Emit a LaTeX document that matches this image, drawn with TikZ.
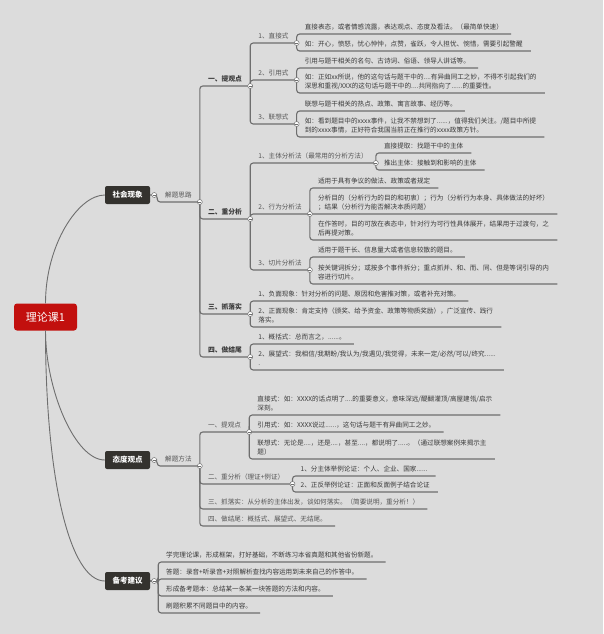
\documentclass[tikz,border=0pt]{standalone}
\usepackage{fontspec}
\setmainfont{Noto Sans CJK SC}
\definecolor{bg}{HTML}{DCDCDC}
\definecolor{ln}{HTML}{6E6E6E}
\definecolor{tx}{HTML}{3A3A3A}
\definecolor{txm}{HTML}{555555}
\definecolor{boxc}{HTML}{34322E}
\definecolor{redc}{HTML}{C2100E}
\newcommand\lffont{\fontsize{6.6}{9.5}\selectfont}
\newcommand\hdfont{\fontsize{6.8}{9.5}\selectfont\bfseries}
\begin{document}
\begin{tikzpicture}[x=1pt,y=-1pt,
  conn/.style={draw=ln, line width=1.1pt, rounded corners=3pt},
  curve/.style={draw=ln, line width=0.9pt},
  leaf/.style={anchor=south west, inner xsep=8pt, inner ysep=3pt, text depth=1pt, font=\lffont, text=tx, align=left},
  mid/.style={leaf, text=txm},
  head/.style={leaf, font=\hdfont, text=tx},
  topbox/.style={fill=boxc, text=white, rounded corners=2pt, minimum width=45pt, minimum height=18pt, inner sep=0pt, font=\fontsize{7.5}{9}\selectfont\bfseries},
  mk/.style={circle, draw=ln, fill=white, line width=0.5pt, inner sep=0pt, minimum size=5pt,
    path picture={\draw[ln, line width=0.6pt] ([xshift=-1.4pt]path picture bounding box.center) -- ([xshift=1.4pt]path picture bounding box.center);}}
]
\fill[bg] (0,0) rectangle (603,634);
\useasboundingbox (0,0) rectangle (603,634);

% root
\node[fill=redc, text=white, rounded corners=3pt, minimum width=63pt, minimum height=27pt, inner sep=0pt, font=\fontsize{11}{13}\selectfont] (root) at (45.5,317) {理论课1};

% ---------- 社会现象 ----------
\node[topbox] (s1) at (127.5,195) {社会现象};
\coordinate (ms1) at ([xshift=4pt]s1.east);
\node[mid] (jt) at (157,202) {解题思路};
\node[head] (a1) at (jt.south east |- 0,86) {一、提观点};
\node[mid] (b1) at (a1.south east |- 0,43) {1、直接式};
\node[leaf] (c1) at (b1.south east |- 0,34) {直接表态，或者情感流露，表达观点、态度及看法。（最简单快速）};
\node[leaf] (c2) at (b1.south east |- 0,51) {如：开心，愤怒，忧心忡忡，点赞，雀跃，令人担忧、惋惜，需要引起警醒};
\node[mid] (b2) at (a1.south east |- 0,80) {2、引用式};
\node[leaf] (c3) at (b2.south east |- 0,68) {引用与题干相关的名句、古诗词、俗语、领导人讲话等。};
\node[leaf] (c4) at (b2.south east |- 0,93) {如：正如xx所说，他的这句话与题干中的....有异曲同工之妙，不得不引起我们的\\深思和重视/XXX的这句话与题干中的....共同指向了......的重要性。};
\node[mid] (b3) at (a1.south east |- 0,124) {3、联想式};
\node[leaf] (c5) at (b3.south east |- 0,111) {联想与题干相关的热点、政策、寓言故事、经历等。};
\node[leaf] (c6) at (b3.south east |- 0,137) {如：看到题目中的xxxx事件，让我不禁想到了......，值得我们关注。/题目中所提\\到的xxxx事情，正好符合我国当前正在推行的xxxx政策方针。};

\node[head] (a2) at (jt.south east |- 0,219) {二、重分析};
\node[mid] (b4) at (a2.south east |- 0,163) {1、主体分析法（最常用的分析方法）};
\node[leaf] (c7) at (b4.south east |- 0,153) {直接提取：找题干中的主体};
\node[leaf] (c8) at (b4.south east |- 0,170) {推出主体：接触到和影响的主体};
\node[mid] (b5) at (a2.south east |- 0,214) {2、行为分析法};
\node[leaf] (c9) at (b5.south east |- 0,188) {适用于具有争议的做法、政策或者规定};
\node[leaf] (c10) at (b5.south east |- 0,214) {分析目的（分析行为的目的和初衷）；行为（分析行为本身、具体做法的好坏）\\；结果（分析行为能否解决本质问题）};
\node[leaf] (c11) at (b5.south east |- 0,240) {在作答时，目的可放在表态中，针对行为可行性具体展开，结果用于过渡句，之\\后再提对策。};
\node[mid] (b6) at (a2.south east |- 0,270) {3、切片分析法};
\node[leaf] (c12) at (b6.south east |- 0,257) {适用于题干长、信息量大或者信息较散的题目。};
\node[leaf] (c13) at (b6.south east |- 0,284) {按关键词拆分；或按多个事件拆分；重点抓并、和、而、同、但是等词引导的内\\容进行切片。};

\node[head] (a3) at (jt.south east |- 0,314) {三、抓落实};
\node[leaf] (b7) at (a3.south east |- 0,301) {1、负面现象：针对分析的问题、原因和危害推对策，或者补充对策。};
\node[leaf] (b8) at (a3.south east |- 0,327) {2、正面现象：肯定支持（颁奖、给予资金、政策等物质奖励），广泛宣传、践行\\落实。};

\node[head] (a4) at (jt.south east |- 0,357) {四、做结尾};
\node[leaf] (b9) at (a4.south east |- 0,344) {1、概括式：总而言之，......。};
\node[leaf] (b10) at (a4.south east |- 0,370) {2、展望式：我相信/我期盼/我认为/我遇见/我觉得，未来一定/必然/可以/终究......\\.};

% ---------- 态度观点 ----------
\node[topbox] (s2) at (127.5,460) {态度观点};
\coordinate (ms2) at ([xshift=4pt]s2.east);
\node[mid] (jf) at (157,466) {解题方法};
\node[mid] (d1) at (jf.south east |- 0,432) {一、提观点};
\node[leaf] (e1) at (d1.south east |- 0,415) {直接式：如：XXXX的话点明了....的重要意义，意味深远/醍醐灌顶/高屋建瓴/启示\\深刻。};
\node[leaf] (e2) at (d1.south east |- 0,432) {引用式：如：XXXX说过......，这句话与题干有异曲同工之妙。};
\node[leaf] (e3) at (d1.south east |- 0,459) {联想式：无论是....，还是....，甚至....，都说明了.....。（通过联想案例来揭示主\\题）};
\node[mid] (d2) at (jf.south east |- 0,484) {二、重分析（理证+例证）};
\node[leaf] (e4) at (d2.south east |- 0,476) {1、分主体举例论证：个人、企业、国家......};
\node[leaf] (e5) at (d2.south east |- 0,492) {2、正反举例论证：正面和反面例子结合论证};
\node[mid] (d3) at (jf.south east |- 0,509) {三、抓落实：从分析的主体出发，谈如何落实。（简要说明，重分析！）};
\node[mid] (d4) at (jf.south east |- 0,526) {四、做结尾：概括式、展望式、无结尾。};

% ---------- 备考建议 ----------
\node[topbox] (s3) at (127.5,581) {备考建议};
\coordinate (ms3) at ([xshift=4pt]s3.east);
\node[leaf] (f1) at (158,562) {学完理论课，形成框架，打好基础，不断练习本省真题和其他省份新题。};
\node[leaf] (f2) at (158,579) {答题：录音+听录音+对照解析查找内容运用到未来自己的作答中。};
\node[leaf] (f3) at (158,596) {形成备考题本：总结某一条某一块答题的方法和内容。};
\node[leaf] (f4) at (158,613) {刷题积累不同题目中的内容。};

% ---------- connectors ----------
\draw[curve] (root.north) .. controls (45.5,245) and (78,195) .. (s1.west);
\draw[curve] (root.south) .. controls (45.5,390) and (75,460) .. (s2.west);
\draw[curve] (root.south) .. controls (45.5,480) and (70,581) .. (s3.west);

\draw[conn] (s1.east) -- (ms1) -- ++(3,0) |- (jt.south east);
\foreach \p/\c in {jt/a1,jt/a2,jt/a3,jt/a4,
  a1/b1,a1/b2,a1/b3,b1/c1,b1/c2,b2/c3,b2/c4,b3/c5,b3/c6,
  a2/b4,a2/b5,a2/b6,b4/c7,b4/c8,b5/c9,b5/c10,b5/c11,b6/c12,b6/c13,
  a3/b7,a3/b8,a4/b9,a4/b10,
  jf/d1,jf/d2,jf/d3,jf/d4,d1/e1,d1/e2,d1/e3,d2/e4,d2/e5}
  \draw[conn] (\p.south east) |- (\c.south east);
\draw[conn] (s2.east) -- (ms2) -- ++(3,0) |- (jf.south east);
\foreach \c in {f1,f2,f3,f4}
  \draw[conn] (s3.east) -- (ms3) -- ++(4,0) |- (\c.south east);

% ---------- markers ----------
\foreach \n in {jt,a1,a2,a3,a4,b1,b2,b3,b4,b5,b6,jf,d1,d2}
  \node[mk] (mk-\n) at (\n.south east) {};
\node[mk] (mk-s1) at (ms1) {};
\node[mk] (mk-s2) at (ms2) {};
\node[mk] (mk-s3) at (ms3) {};
\end{tikzpicture}
\end{document}
